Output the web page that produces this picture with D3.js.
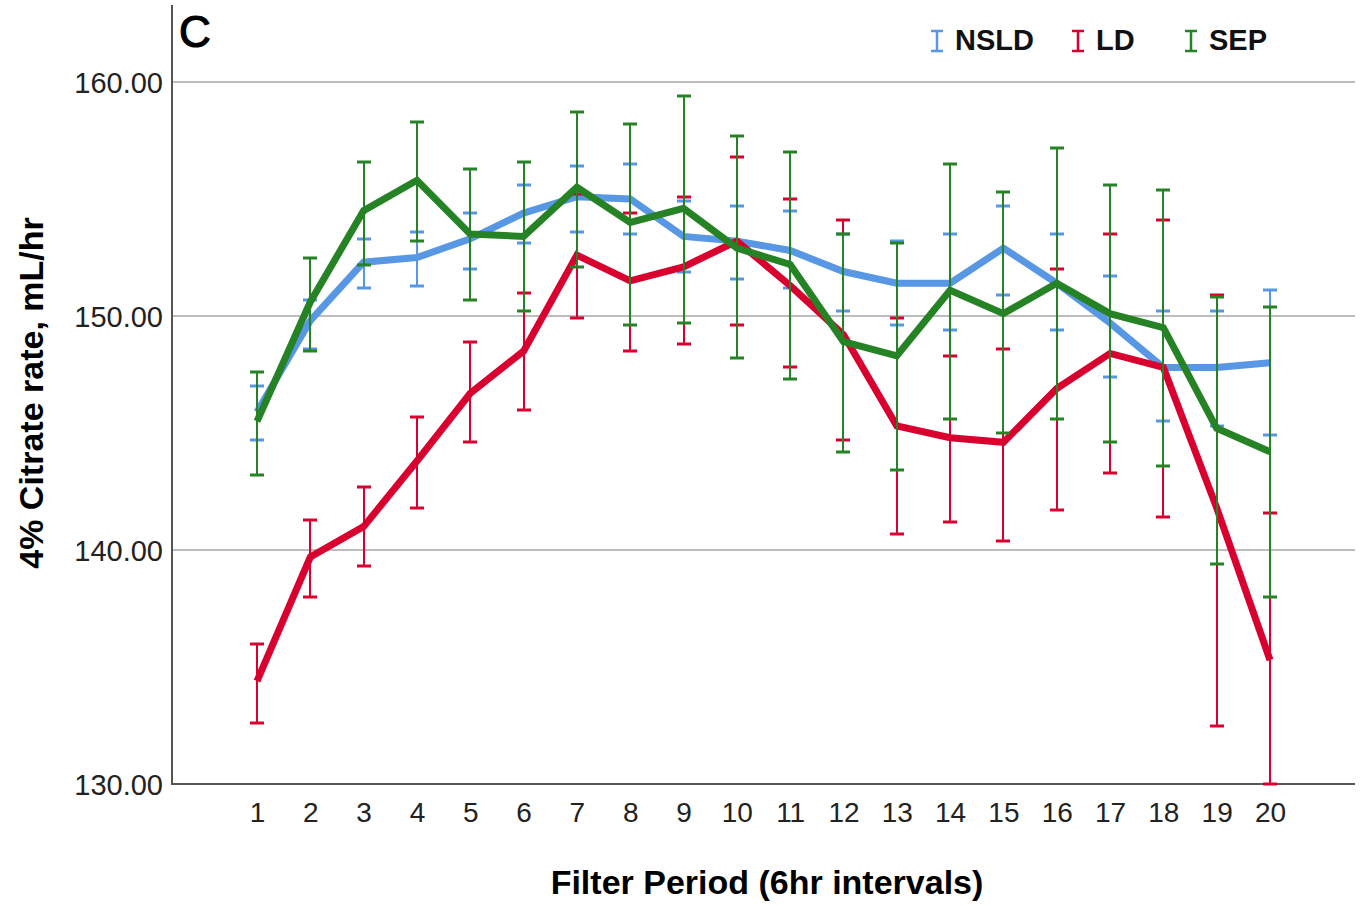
<!DOCTYPE html>
<html>
<head>
<meta charset="utf-8">
<script src="https://cdn.jsdelivr.net/npm/d3@7"></script>
<style>
  body { margin: 0; background: #fff; }
  text { font-family: "Liberation Sans", Arial, sans-serif; }
</style>
</head>
<body>
<svg id="chart"></svg>
<script>
// filter periods 1..20
var periods = d3.range(1, 21);
var yTicks = [130, 140, 150, 160];

// NSLD
var nsldMean = [145.9, 149.8, 152.3, 152.5, 153.3, 154.4, 155.1, 155.0, 153.4, 153.2, 152.8, 151.9, 151.4, 151.4, 152.9, 151.4, 149.7, 147.8, 147.8, 148.0];
var nsldHi   = [147.0, 150.7, 153.3, 153.6, 154.4, 155.6, 156.4, 156.5, 154.9, 154.7, 154.5, 153.5, 153.2, 153.5, 154.7, 153.5, 151.7, 150.2, 150.2, 151.1];
var nsldLo   = [144.7, 148.6, 151.2, 151.3, 152.0, 153.1, 153.6, 153.5, 151.9, 151.6, 151.2, 150.2, 149.6, 149.4, 150.9, 149.4, 147.4, 145.5, 145.3, 144.9];

// LD
var ldMean = [134.4, 139.7, 141.0, 143.8, 146.7, 148.5, 152.6, 151.5, 152.1, 153.2, 151.3, 149.2, 145.3, 144.8, 144.6, 146.9, 148.4, 147.8, 141.8, 135.3];
var ldHi   = [136.0, 141.3, 142.7, 145.7, 148.9, 151.0, 155.2, 154.4, 155.1, 156.8, 155.0, 154.1, 149.9, 148.3, 148.6, 152.0, 153.5, 154.1, 150.9, 141.6];
var ldLo   = [132.6, 138.0, 139.3, 141.8, 144.6, 146.0, 149.9, 148.5, 148.8, 149.6, 147.8, 144.7, 140.7, 141.2, 140.4, 141.7, 143.3, 141.4, 132.5, 130.0];

// SEP
var sepMean = [145.5, 150.6, 154.5, 155.8, 153.5, 153.4, 155.5, 154.0, 154.6, 152.9, 152.2, 148.9, 148.3, 151.1, 150.1, 151.4, 150.1, 149.5, 145.2, 144.2];
var sepHi   = [147.6, 152.5, 156.6, 158.3, 156.3, 156.6, 158.7, 158.2, 159.4, 157.7, 157.0, 153.5, 153.1, 156.5, 155.3, 157.2, 155.6, 155.4, 150.8, 150.4];
var sepLo   = [143.2, 148.5, 152.2, 153.2, 150.7, 150.2, 152.1, 149.6, 149.7, 148.2, 147.3, 144.2, 143.4, 145.6, 145.0, 145.6, 144.6, 143.6, 139.4, 138.0];

var groups = [
  { name: "NSLD", color: "#5797e4", mean: nsldMean, hi: nsldHi, lo: nsldLo },
  { name: "LD",   color: "#d9002f", mean: ldMean,   hi: ldHi,   lo: ldLo },
  { name: "SEP",  color: "#268325", mean: sepMean,  hi: sepHi,  lo: sepLo }
];

var dimensions = {
  width: 1366,
  height: 906,
  margin: { top: 5, bottom: 122, right: 11, left: 172 }
};

var svg = d3.select("#chart")
  .attr("width", dimensions.width)
  .attr("height", dimensions.height);

var xScale = d3.scaleLinear()
  .domain([1, 20])
  .range([257, 1270]);

var yScale = d3.scaleLinear()
  .domain([130, 160])
  .range([784, 82]);

var plotRight = dimensions.width - dimensions.margin.right;
var plotBottom = yScale(130);

// gridlines
svg.append("g")
  .selectAll("line")
  .data(yTicks.filter(d => d > 130))
  .enter()
  .append("line")
  .attr("x1", dimensions.margin.left)
  .attr("x2", plotRight)
  .attr("y1", d => yScale(d))
  .attr("y2", d => yScale(d))
  .attr("stroke", "#bdbdbd")
  .attr("stroke-width", 2);

// y axis
var yAxis = svg.append("g")
  .attr("transform", `translate(${dimensions.margin.left},0)`)
  .call(d3.axisLeft(yScale).tickValues(yTicks).tickFormat(d3.format(".2f")).tickSize(0).tickPadding(9));
yAxis.select(".domain").remove();
yAxis.selectAll("text")
  .style("font-size", "29px")
  .attr("fill", "#222")
  .attr("dy", "0.36em");

svg.append("line")
  .attr("x1", dimensions.margin.left).attr("x2", dimensions.margin.left)
  .attr("y1", dimensions.margin.top).attr("y2", plotBottom + 1)
  .attr("stroke", "#555").attr("stroke-width", 2);

// x axis
var xAxis = svg.append("g")
  .attr("transform", `translate(0,${plotBottom})`)
  .call(d3.axisBottom(xScale).tickValues(periods).tickFormat(d3.format("d")).tickSize(0).tickPadding(18));
xAxis.select(".domain").remove();
xAxis.selectAll("text")
  .style("font-size", "28px")
  .attr("fill", "#222");

svg.append("line")
  .attr("x1", dimensions.margin.left).attr("x2", plotRight)
  .attr("y1", plotBottom).attr("y2", plotBottom)
  .attr("stroke", "#555").attr("stroke-width", 2);

// axis titles
svg.append("text")
  .attr("x", 767)
  .attr("y", 894)
  .style("text-anchor", "middle")
  .style("font-size", "34px")
  .style("font-weight", "bold")
  .text("Filter Period (6hr intervals)");

svg.append("text")
  .attr("transform", "translate(43," + 393 + ")rotate(-90)")
  .style("text-anchor", "middle")
  .style("font-size", "34px")
  .style("font-weight", "bold")
  .text("4% Citrate rate, mL/hr");

// panel letter
svg.append("text")
  .attr("x", 179)
  .attr("y", 47)
  .style("font-size", "44px")
  .attr("stroke", "#000")
  .attr("stroke-width", 1.2)
  .text("C");

var line = d3.line()
  .x((d, i) => xScale(periods[i]))
  .y(d => yScale(d));

var capW = 7;
var px = p => Math.round(xScale(p));

groups.forEach(function(g) {
  var layer = svg.append("g");

  var bars = periods.map((p, i) => ({ p: p, hi: g.hi[i], lo: g.lo[i] }));

  layer.selectAll(".eb")
    .data(bars)
    .enter()
    .append("line")
    .attr("x1", d => px(d.p))
    .attr("x2", d => px(d.p))
    .attr("y1", d => yScale(d.hi))
    .attr("y2", d => yScale(d.lo))
    .attr("stroke", g.color)
    .attr("stroke-width", 2);

  ["hi", "lo"].forEach(function(k) {
    layer.selectAll(".cap-" + k)
      .data(bars)
      .enter()
      .append("line")
      .attr("x1", d => px(d.p) - capW)
      .attr("x2", d => px(d.p) + capW)
      .attr("y1", d => Math.round(yScale(d[k])))
      .attr("y2", d => Math.round(yScale(d[k])))
      .attr("stroke", g.color)
      .attr("stroke-width", 3);
  });

  layer.append("path")
    .datum(g.mean)
    .attr("d", line)
    .attr("fill", "none")
    .attr("stroke", g.color)
    .attr("stroke-width", 7)
    .attr("stroke-linejoin", "miter");
});

// legend
var legendX = [937, 1078, 1191];
var legend = svg.append("g");
groups.forEach(function(g, i) {
  var lx = legendX[i];
  var item = legend.append("g");
  item.append("line")
    .attr("x1", lx).attr("x2", lx)
    .attr("y1", 31).attr("y2", 51)
    .attr("stroke", g.color).attr("stroke-width", 2.5);
  [31, 51].forEach(function(cy) {
    item.append("line")
      .attr("x1", lx - 6).attr("x2", lx + 6)
      .attr("y1", cy).attr("y2", cy)
      .attr("stroke", g.color).attr("stroke-width", 2.5);
  });
  item.append("text")
    .attr("x", lx + 18)
    .attr("y", 50)
    .style("font-size", "29px")
    .style("font-weight", "bold")
    .attr("fill", "#111")
    .text(g.name);
});
</script>
</body>
</html>
